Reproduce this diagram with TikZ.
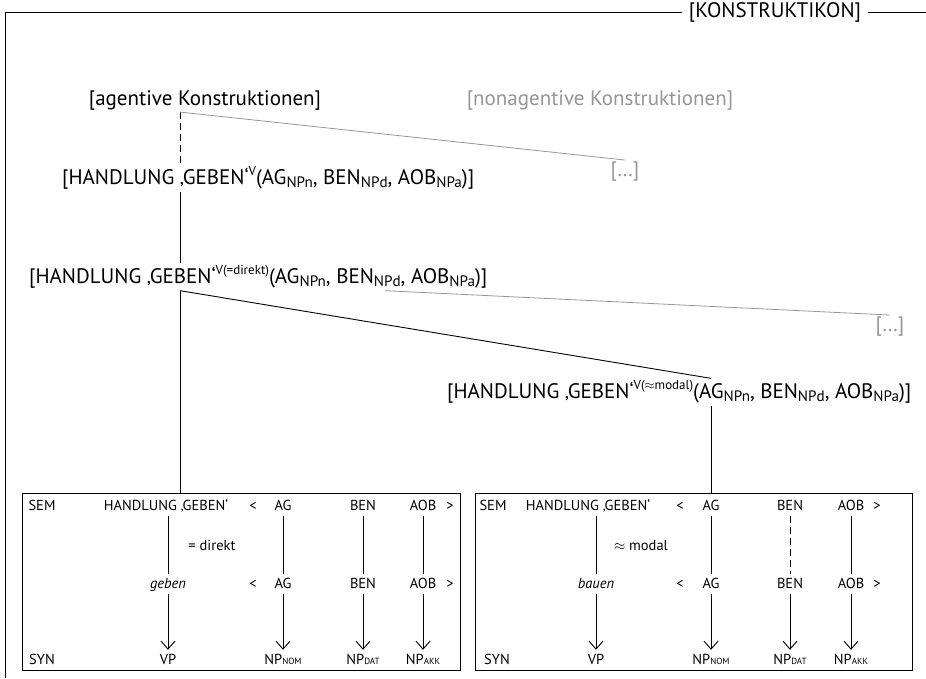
\documentclass[tikz,border=0pt]{standalone}
\usepackage{fontspec}
\setmainfont{PT Sans}
\usepackage{xcolor}
\usepackage{tikz}
\usetikzlibrary{positioning,calc,arrows.meta}
\definecolor{paleink}{RGB}{150,150,150}
\newcommand{\lo}[1]{\raisebox{-0.12em}{\scalebox{0.72}{#1}}}
\newcommand{\hi}[1]{\raisebox{0.42em}{\scalebox{0.62}{#1}}}
\newcommand{\cs}[1]{\raisebox{-0.05em}{\scalebox{0.62}{#1}}}

\begin{document}
\begin{tikzpicture}[x=1pt, y=-1pt,
        tree/.style={inner sep=2pt, font=\fontsize{21}{24}\selectfont},
        faded/.style={tree, text=paleink},
        cell/.style={inner sep=3pt, text height=11pt, text depth=3pt, font=\fontsize{14.5}{17}\selectfont},
        panel/.style={draw, line width=0.9pt, minimum width=438pt, minimum height=177pt},
        link/.style={draw, line width=0.9pt},
        dim/.style={draw=paleink, line width=0.8pt},
        gap/.style={link, dash pattern=on 7pt off 4pt},
        arr/.style={link, -{Straight Barb[length=8pt,width=14pt]}}]

        \useasboundingbox (0,0) rectangle (926,678);

        \node [tree, inner xsep=7pt] (konstr) at (775,12) {[KONSTRUKTIKON]};
        \coordinate (corner) at (5,12);
        \coordinate (foot) at (5,678);
        \coordinate (edge) at (926,12);
        \draw [link] (konstr.west) -- (corner) -- (foot);
        \draw [link] (konstr.east) -- (edge);

        \coordinate (spine) at (180,0);
        \coordinate (spine2) at (711,0);
        \coordinate (fork) at (385,0);

        \node [tree] (agent) at (205,100) {[agentive Konstruktionen]};
        \node [faded] (nonagent) at (600,100) {[nonagentive Konstruktionen]};
        \node [tree, anchor=west] (geben) at (60,178)
            {[HANDLUNG ‚GEBEN‘\hi{V}(AG\lo{NPn}, BEN\lo{NPd}, AOB\lo{NPa})]};
        \node [faded] (more1) at (625,172) {[…]};
        \node [tree, anchor=west] (direkt) at (27,277)
            {[HANDLUNG ‚GEBEN‘\hi{V(=direkt)}(AG\lo{NPn}, BEN\lo{NPd}, AOB\lo{NPa})]};
        \node [faded] (more2) at (890,327) {[…]};
        \node [tree, anchor=west] (modal) at (445,392)
            {[HANDLUNG ‚GEBEN‘\hi{V($\approx$modal)}(AG\lo{NPn}, BEN\lo{NPd}, AOB\lo{NPa})]};

        \node [panel] (box1) at (241,581.5) {};
        \node [panel, minimum width=437pt] (box2) at (693.5,581.5) {};

        \path [gap] (agent.south -| spine) -- (geben.north -| spine);
        \path [dim] (agent.south -| spine) -- (more1.north);
        \path [link] (geben.south -| spine) -- (direkt.north -| spine);
        \path [dim] (direkt.south -| fork) -- (more2.north);
        \path [link] (direkt.south -| spine) -- (box1.north -| spine);
        \path [link] (direkt.south -| spine) -- (modal.north -| spine2);
        \path [link] (modal.south -| spine2) -- (box2.north -| spine2);

        % left panel
        \node [cell] (a-sem) at (42,506) {SEM};
        \node [cell] (a-syn) at (42,660) {SYN};
        \node [cell] (a-hg) at (166,506) {HANDLUNG ‚GEBEN‘};
        \node [cell] (a-lt) at (253,506) {<};
        \node [cell] (a-ag) at (283,506) {AG};
        \node [cell] (a-ben) at (363,506) {BEN};
        \node [cell] (a-aob) at (423,506) {AOB};
        \node [cell] (a-gt) at (450,506) {>};
        \node [cell] (a-rel) at (212,546) {= direkt};
        \node [cell] (a-verb-m) at (168,584) {\itshape geben};
        \node [cell] (a-lt-m) at (253,584) {<};
        \node [cell] (a-ag-m) at (283,584) {AG};
        \node [cell] (a-ben-m) at (363,584) {BEN};
        \node [cell] (a-aob-m) at (423,584) {AOB};
        \node [cell] (a-gt-m) at (450,584) {>};
        \node [cell] (a-verb-s) at (168,660) {VP};
        \node [cell] (a-ag-s) at (283,660) {NP\cs{NOM}};
        \node [cell] (a-ben-s) at (363,660) {NP\cs{DAT}};
        \node [cell] (a-aob-s) at (423,660) {NP\cs{AKK}};

        \path [link] (a-hg.south -| a-verb-m) -- (a-verb-m.north);
        \foreach \c in {ag,ben,aob}
            \path [link] (a-\c.south) -- (a-\c-m.north);
        \foreach \c in {verb,ag,ben,aob}
            \path [arr] (a-\c-m.south) -- (a-\c-s.north);

        % right panel
        \node [cell] (b-sem) at (493,506) {SEM};
        \node [cell] (b-syn) at (497,660) {SYN};
        \node [cell] (b-hg) at (588,506) {HANDLUNG ‚GEBEN‘};
        \node [cell] (b-lt) at (680,506) {<};
        \node [cell] (b-ag) at (711,506) {AG};
        \node [cell] (b-ben) at (790,506) {BEN};
        \node [cell] (b-aob) at (851,506) {AOB};
        \node [cell] (b-gt) at (877,506) {>};
        \node [cell] (b-rel) at (641,546) {$\approx$ modal};
        \node [cell] (b-verb-m) at (596,584) {\itshape bauen};
        \node [cell] (b-lt-m) at (680,584) {<};
        \node [cell] (b-ag-m) at (711,584) {AG};
        \node [cell] (b-ben-m) at (790,584) {BEN};
        \node [cell] (b-aob-m) at (851,584) {AOB};
        \node [cell] (b-gt-m) at (877,584) {>};
        \node [cell] (b-verb-s) at (596,660) {VP};
        \node [cell] (b-ag-s) at (711,660) {NP\cs{NOM}};
        \node [cell] (b-ben-s) at (790,660) {NP\cs{DAT}};
        \node [cell] (b-aob-s) at (851,660) {NP\cs{AKK}};

        \path [link] (b-hg.south -| b-verb-m) -- (b-verb-m.north);
        \path [link] (b-ag.south) -- (b-ag-m.north);
        \path [gap] (b-ben.south) -- (b-ben-m.north);
        \path [link] (b-aob.south) -- (b-aob-m.north);
        \foreach \c in {verb,ag,ben,aob}
            \path [arr] (b-\c-m.south) -- (b-\c-s.north);

    \end{tikzpicture}
\end{document}
